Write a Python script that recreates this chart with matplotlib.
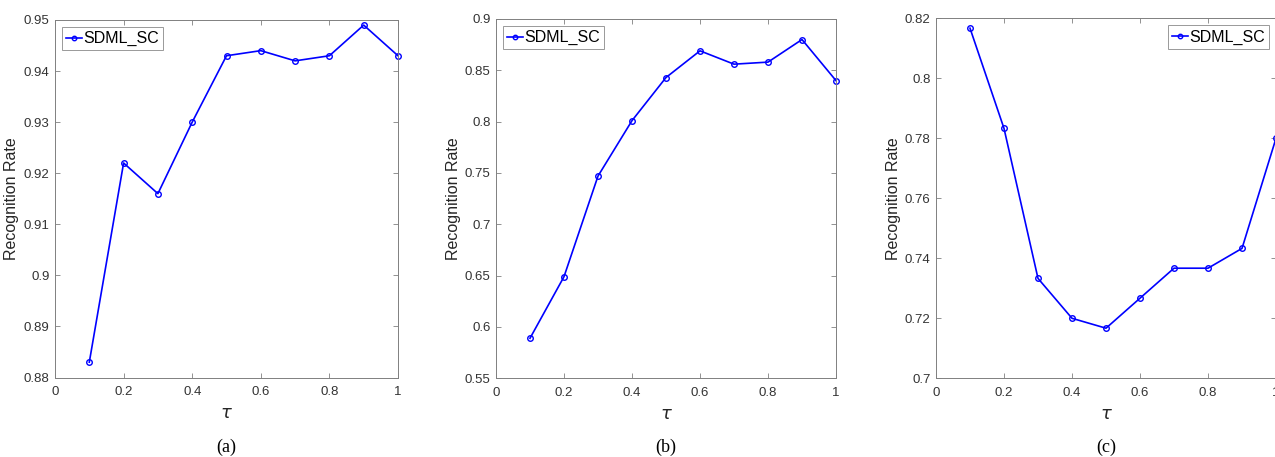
import matplotlib
matplotlib.use("Agg")
import matplotlib.pyplot as plt

tau = [0.1, 0.2, 0.3, 0.4, 0.5, 0.6, 0.7, 0.8, 0.9, 1.0]
rate_a = [0.883, 0.922, 0.916, 0.930, 0.943, 0.944, 0.942, 0.943, 0.949, 0.943]
rate_b = [0.589, 0.649, 0.747, 0.801, 0.843, 0.869, 0.856, 0.858, 0.880, 0.840]
rate_c = [0.8167, 0.7833, 0.7333, 0.720, 0.7167, 0.7267, 0.7367, 0.7367, 0.7433, 0.780]

yticks_a = [0.88, 0.89, 0.9, 0.91, 0.92, 0.93, 0.94, 0.95]
yticks_b = [0.55, 0.6, 0.65, 0.7, 0.75, 0.8, 0.85, 0.9]
yticks_c = [0.7, 0.72, 0.74, 0.76, 0.78, 0.8, 0.82]
xticks = [0, 0.2, 0.4, 0.6, 0.8, 1]
captions = ["(a)", "(b)", "(c)"]
series_name = "SDML_SC"

plt.rcParams['font.family'] = ['Liberation Sans', 'DejaVu Sans']

fig = plt.figure(figsize=(12.75, 4.57), dpi=100)
W, H = 1275, 457

# left, right, top, bottom in pixels
boxes = [(55, 398, 20, 377.5), (496, 836, 19, 378.3), (936, 1276, 18.3, 378.3)]
datasets = [(rate_a, yticks_a, 'upper left'),
            (rate_b, yticks_b, 'upper left'),
            (rate_c, yticks_c, 'upper right')]

def fmt(v):
    s = ('%.2f' % v).rstrip('0').rstrip('.')
    return s

for (l, r, t, b), (vals, yt, loc), cap in zip(boxes, datasets, captions):
    ax = fig.add_axes([l / W, 1 - b / H, (r - l) / W, (b - t) / H])
    ax.plot(tau, vals, color=(0, 0, 1), lw=1.2, marker='o', ms=4,
            mfc='none', mec=(0, 0, 1), mew=1.0, label=series_name, clip_on=False)
    ax.set_xlim(0, 1)
    ax.set_ylim(yt[0], yt[-1])
    ax.set_xticks(xticks)
    ax.set_xticklabels([fmt(v) for v in xticks])
    ax.set_yticks(yt)
    ax.set_yticklabels([fmt(v) for v in yt])
    ax.tick_params(direction='in', top=True, right=True, length=3.5, width=0.6,
                   labelsize=9.5, color='#808080', labelcolor='#333333')
    ax.tick_params(axis='x', pad=6)
    ax.tick_params(axis='y', pad=4)
    for s in ax.spines.values():
        s.set_color('#808080')
        s.set_linewidth(0.7)
    ax.set_ylabel('Recognition Rate', fontsize=11.5, color='#262626', labelpad=3)
    ax.set_xlabel(r'$\tau$', fontsize=13, color='#262626', labelpad=5)
    leg = ax.legend(loc=loc, fontsize=11.5, frameon=True, fancybox=False,
                    borderpad=0.25, handlelength=1.0, handletextpad=0.05,
                    borderaxespad=0.45, markerscale=0.8)
    leg.get_frame().set_edgecolor('#808080')
    leg.get_frame().set_linewidth(0.7)
    fig.text((l + r) / 2 / W, 1 - 447 / H, cap, ha='center', va='center',
             fontsize=13, family=['Liberation Serif', 'DejaVu Serif'])

fig.savefig('out.png', dpi=100)
